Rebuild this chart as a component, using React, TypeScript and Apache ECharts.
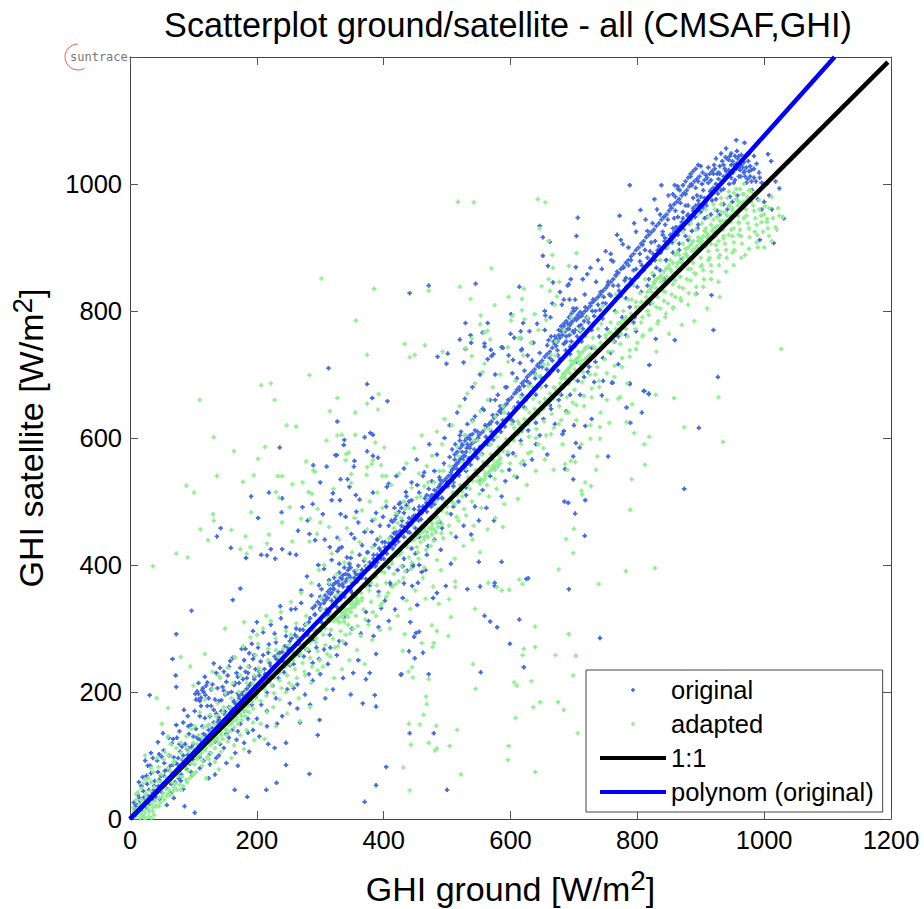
import React, { useEffect, useRef } from "react";
import * as echarts from "echarts";

const titleText = "Scatterplot ground/satellite - all (CMSAF,GHI)";
const xTicks = [0, 200, 400, 600, 800, 1000, 1200];
const yTicks = [0, 200, 400, 600, 800, 1000];

// x, y pairs: isolated marks
const originalSparse = [
760,687,788,686,811,674,818,670,783,648,807,640,789,624,897,616,754,571,874,520,699,571,703,592,709,585,686,551,699,535,685,500,691,498,718,502,702,481,717,446,692,362,741,285,728,630,744,667,732,688,700,620,718,619,684,611,
628,379,625,378,575,372,575,367,552,366,532,362,498,367,559,320,568,311,579,302,614,314,599,276,621,239,553,231,471,228,427,227,462,262,440,264,449,253,456,295,448,287,453,337,484,356,441,135,479,135,500,46,550,405,586,405,506,402,456,400,446,400,437,391,460,389,432,371,445,367,
313,710,374,685,382,663,406,658,327,626,379,608,383,605,370,601,338,597,337,589,374,579,236,585,324,573,326,573,289,557,310,555,354,564,353,555,383,572,391,569,332,535,343,535,300,530,346,523,191,508,219,514,240,505,320,513,318,502,331,502,272,491,288,496,239,483,202,474,304,480,280,470,143,458,137,445,265,454,283,449,292,439,159,427,207,416,216,415,222,425,240,425,252,418,262,416,229,410,183,411,307,440,315,428,327,443,334,428,327,422,349,449,360,467,388,482,357,484,340,476,332,480,362,503,356,510,383,514,405,523,
706,947,704,918,646,934,651,916,662,909,651,887,659,871,703,869,721,858,695,850,692,842,667,845,614,838,545,843,471,840,441,828,601,795,529,781,564,781,620,781,655,793,684,818,693,818,537,762,520,755,556,766,559,749,559,744,538,750,529,740,501,733,485,728,499,717,526,719,569,739,573,732,570,729,586,743,600,764,616,768,616,757,617,738,597,730,604,723,
73,291,97,328,174,363,162,345,67,252,72,226,73,208,370,27,451,293,404,82,388,53,185,35,215,46,165,46,102,10,86,20,299,156,283,71,246,85,231,57,378,230,428,228,386,195,388,177,367,182,31,195,
927,696,920,770,917,825,893,827,859,754,829,756,810,674,818,669,788,685,761,687,819,715,1015,907,993,912,1031,946,1024,993,1011,1036,1006,1047,956,1069,969,1065,772,950,788,998,768,920,758,890,805,959,827,976,838,998,859,998,864,996,
];

// x, y pairs: the dense band
const originalBand = [
4,6,7,15,9,5,11,22,13,10,15,33,17,20,19,14,21,44,23,27,25,18,27,55,29,36,31,24,33,72,35,42,37,30,39,60,41,35,43,92,45,52,47,31,49,68,51,41,53,108,55,76,57,49,59,61,61,128,63,83,65,55,67,71,69,97,71,58,73,148,75,86,77,64,79,106,81,70,83,93,85,172,87,118,89,79,91,101,93,134,95,87,97,113,99,94,
24,92,14,58,44,121,58,22,69,33,84,47,33,104,52,135,66,119,78,138,91,162,98,69,104,142,106,110,108,197,110,186,112,124,114,203,116,92,118,159,120,131,122,215,124,148,126,103,128,178,130,143,132,245,134,122,136,166,138,206,140,156,142,118,144,187,146,152,148,232,150,169,152,134,154,198,156,161,158,249,160,174,162,141,164,211,166,182,168,125,170,224,172,190,174,150,176,268,178,196,180,171,182,232,184,205,186,158,188,261,190,213,192,180,194,296,196,224,198,192,
112,191,108,188,106,201,115,206,119,195,103,197,200,310,204,232,207,180,210,258,213,228,216,199,219,275,222,241,225,210,228,292,231,252,234,222,237,335,240,263,243,231,246,302,249,270,252,242,255,285,258,206,261,331,264,286,267,258,270,360,273,298,276,269,279,382,282,310,285,281,288,246,291,322,294,296,297,400,300,332,303,309,306,267,309,345,312,322,315,290,318,356,321,339,324,372,327,346,330,402,333,352,336,366,339,318,342,378,345,384,348,411,351,372,354,390,357,340,360,399,363,386,366,431,369,407,372,378,375,420,378,395,
316,354,320,362,324,350,312,348,328,358,318,344,330,368,306,340,300,338,335,370,340,374,344,365,348,380,352,376,356,386,
381,452,384,416,387,398,390,440,393,426,396,410,399,476,402,436,405,418,408,462,411,444,414,426,417,490,420,452,423,437,426,498,429,470,432,444,435,515,438,466,441,451,444,502,447,477,450,458,453,526,456,492,459,472,462,540,465,505,468,484,471,520,474,508,477,497,480,548,483,516,486,505,489,534,492,518,495,560,498,532,501,524,504,570,507,542,510,530,513,590,516,551,519,541,522,610,525,566,528,554,531,584,534,568,537,558,540,628,543,582,546,571,549,600,552,586,555,575,558,644,561,602,564,590,567,622,570,610,573,597,576,660,579,624,582,612,585,640,588,628,591,618,594,680,597,638,600,630,
420,478,424,484,428,490,432,482,418,472,414,468,436,494,440,500,476,510,480,518,484,512,488,524,472,502,468,498,520,566,524,578,528,572,532,590,516,560,512,556,536,584,508,550,
603,702,606,648,609,672,612,656,615,718,618,668,621,682,624,660,627,730,630,686,633,672,636,750,639,694,642,680,645,712,648,696,651,690,654,770,657,708,660,700,663,790,666,722,669,712,672,745,675,730,678,724,681,810,684,748,687,738,690,780,693,762,696,752,699,804,702,770,705,760,708,790,711,778,714,772,717,826,720,790,723,782,726,812,729,800,732,792,735,846,738,810,741,802,744,866,747,822,750,812,753,840,
680,768,684,776,688,760,692,772,696,782,700,766,704,786,672,756,676,762,668,752,708,776,712,792,716,784,688,752,694,744,
756,826,759,880,762,840,765,818,768,862,771,832,774,824,777,905,780,848,783,838,786,872,789,850,792,842,795,938,798,866,801,854,804,890,807,872,810,864,813,944,816,884,819,874,822,908,825,890,828,880,831,960,834,902,837,892,840,925,843,910,846,900,849,982,852,920,855,908,858,946,861,932,864,920,867,990,870,940,873,928,876,966,879,950,882,938,885,1000,888,962,891,948,894,982,897,968,900,956,903,1018,906,978,909,966,912,1002,915,988,918,974,921,1030,924,1000,927,985,930,1016,933,1004,936,992,939,1042,942,1014,945,1000,948,1030,951,1018,954,1006,957,1052,960,1026,963,1012,966,1038,969,1020,972,1002,975,1036,978,1012,981,990,984,1024,987,1004,990,976,993,1010,996,960,999,1000,
868,934,872,946,876,940,880,952,884,944,888,958,892,966,864,930,860,926,856,922,852,914,848,906,844,915,896,974,900,980,904,962,908,972,912,980,916,990,920,994,924,976,928,1008,932,990,936,1012,940,1020,944,1022,948,1010,952,1002,956,1032,960,1044,964,1030,968,1018,972,1044,976,1020,980,1004,984,1044,
1004,1000,1008,982,1012,960,1018,1004,1000,972,964,962,958,982,950,972,942,960,930,952,910,948,895,930,880,912,866,896,845,880,830,868,818,850,800,838,782,820,765,800,745,788,728,770,712,752,694,732,675,706,656,682,640,668,622,648,604,626,585,610,568,590,548,568,530,548,510,524,492,505,475,492,455,470,438,452,418,432,400,410,382,398,365,380,348,360,332,346,314,326,298,312,280,290,262,274,244,256,228,240,212,222,196,204,178,188,160,170,144,150,128,134,112,118,96,100,
64,40,80,60,96,74,110,80,126,86,140,100,156,128,170,138,186,136,200,158,216,170,230,190,248,204,264,212,282,228,298,252,316,270,330,280,350,300,372,326,392,358,410,372,430,398,450,418,470,430,490,466,510,492,530,510,552,532,574,552,596,574,618,612,640,624,662,652,680,668,706,690,724,712,746,726,770,760,796,790,820,812,842,850,870,882,
];

// x, y pairs: the wider cloud round the band
const originalCloud = [
6,26,12,38,18,52,26,68,32,84,38,46,44,74,50,98,56,58,62,100,68,126,72,88,78,118,84,152,90,110,96,148,20,66,28,84,36,96,46,102,54,88,64,66,74,128,82,114,92,146,100,130,
102,170,106,128,110,162,114,146,118,224,122,178,126,162,130,212,134,188,138,152,142,238,146,208,150,196,154,226,158,176,162,254,166,214,170,198,174,238,178,220,182,268,186,230,190,196,194,252,198,236,
104,188,108,214,112,178,116,200,120,210,124,190,128,204,132,172,136,230,140,186,144,170,148,202,152,216,156,240,160,200,164,184,168,230,172,214,176,198,180,250,184,222,188,240,192,276,196,258,
110,98,124,64,136,96,152,88,166,104,180,120,194,140,134,70,148,112,170,84,188,106,
202,270,206,248,210,294,214,224,218,262,222,306,226,238,230,278,234,260,238,316,242,248,246,288,250,266,254,330,258,244,262,300,266,276,270,340,274,256,278,292,282,264,286,352,290,284,294,270,298,368,
204,130,216,146,228,112,240,162,252,182,264,174,276,196,288,218,296,132,218,118,232,150,246,120,268,152,284,180,
302,362,306,394,310,330,314,376,318,408,322,362,326,334,330,426,334,378,338,350,342,412,346,396,350,356,354,442,358,374,362,416,366,392,370,452,374,420,378,368,382,470,386,432,390,404,394,462,398,436,
300,228,312,244,326,258,340,276,352,230,364,292,376,312,388,260,396,332,308,190,320,204,336,222,348,196,360,250,372,220,384,288,392,302,
404,492,408,528,412,470,416,450,420,540,424,496,428,462,432,552,436,508,440,474,444,530,448,488,452,566,456,514,460,482,464,546,468,510,472,590,476,532,480,496,484,574,488,538,492,506,496,600,
402,344,412,368,422,392,432,410,444,426,456,444,468,416,480,440,492,458,408,312,418,330,430,348,442,310,454,372,466,392,478,348,490,424,408,396,424,420,446,398,
504,620,508,582,512,566,516,640,520,604,524,588,528,662,532,622,536,598,540,680,544,634,548,610,552,700,556,646,560,620,564,724,568,660,572,636,576,700,580,668,584,650,588,742,592,680,596,660,
506,480,518,500,530,522,544,492,556,518,568,540,580,556,592,532,514,444,526,462,538,448,550,470,562,490,574,470,586,508,598,550,
606,758,610,694,614,676,618,740,622,706,626,690,630,768,634,722,638,702,642,780,646,734,650,712,654,800,658,746,662,726,666,812,670,760,674,738,678,830,682,770,686,750,690,840,694,790,698,768,
604,576,616,596,628,612,640,590,652,630,664,646,676,660,688,642,610,538,622,558,634,566,646,604,658,574,670,622,682,606,694,668,
702,818,706,790,710,768,714,850,718,806,722,788,726,868,730,818,734,800,738,880,742,830,746,812,750,894,754,846,758,824,762,878,766,856,770,840,774,912,778,868,782,852,786,900,790,880,794,864,798,925,
704,720,716,696,728,742,740,760,752,772,764,752,776,790,788,806,798,768,710,668,722,704,734,720,746,690,758,734,770,716,782,762,794,782,
804,878,808,904,812,896,816,926,820,894,824,938,828,910,832,896,836,952,840,920,844,936,848,944,852,966,856,930,860,958,864,948,868,970,872,956,876,984,880,966,884,1012,888,978,892,994,896,1004,900,1028,904,990,908,1014,912,1026,916,1006,920,1016,924,1040,928,1018,932,1048,936,1030,940,1056,944,1038,948,1048,952,1030,956,1024,960,1012,964,1046,968,1034,972,1026,976,1048,980,1022,984,1010,988,1032,992,1018,996,1002,
806,830,816,840,826,856,836,864,846,880,856,892,866,906,876,918,886,926,896,936,906,946,916,952,926,958,936,968,946,980,
];

// x, y pairs: the tight clusters beside the fitted line
const originalCore = [
8,20,16,28,22,34,30,46,38,52,46,62,54,68,60,78,68,86,76,96,84,100,92,112,100,118,108,126,116,134,124,140,132,152,140,160,148,166,156,176,164,186,172,194,180,200,188,210,196,220,204,226,212,236,220,246,228,256,236,262,244,272,252,280,260,290,268,298,276,306,284,316,292,322,300,330,
304,346,308,352,312,358,316,362,320,368,324,372,328,374,332,380,336,384,340,386,344,392,348,396,300,350,296,342,292,336,288,332,314,370,322,380,330,388,338,396,346,402,
354,380,360,384,366,392,372,398,378,404,384,410,390,416,396,422,402,428,408,434,414,442,420,448,426,454,432,460,438,466,444,472,450,478,456,486,462,492,468,498,474,504,480,510,
486,522,490,528,494,532,498,536,502,540,506,546,510,552,514,558,518,562,522,568,526,572,530,578,534,586,538,590,542,594,546,596,550,604,554,608,558,612,562,618,566,622,570,626,574,632,578,636,
512,574,516,578,520,584,524,590,528,596,532,600,536,604,528,604,520,596,540,606,544,612,
582,642,586,646,590,650,594,654,598,660,602,664,606,670,610,676,614,680,618,686,622,690,626,696,630,700,634,704,638,708,642,714,646,718,650,722,654,728,658,732,662,736,666,742,
670,748,674,752,678,758,682,762,686,768,690,772,694,778,698,784,702,788,706,794,710,798,676,770,680,776,684,780,688,784,692,790,696,796,700,800,704,804,664,760,660,754,
714,796,718,800,722,804,726,808,730,814,734,818,738,822,742,826,746,832,750,836,754,842,758,846,762,850,766,856,770,860,774,866,778,870,782,876,786,880,790,886,794,890,798,896,802,900,
806,906,810,910,814,916,818,920,822,924,826,928,830,934,834,938,838,944,842,948,846,952,850,958,854,962,858,968,862,972,866,976,870,982,874,986,878,990,882,996,886,998,890,1004,894,1008,898,1012,902,1000,906,1006,910,1010,914,1016,918,1020,922,1024,
872,998,876,1004,880,1010,884,1016,888,1020,892,1024,896,1030,864,992,860,980,856,984,926,1016,930,1028,934,1036,938,1024,942,1040,946,1044,950,1036,954,1044,958,1040,962,1022,966,1026,970,1012,974,1008,978,1028,
];

// x, y pairs: isolated marks
const adaptedSparse = [
829,668,858,663,928,664,773,664,792,653,783,625,874,617,935,594,819,602,795,608,811,590,741,617,741,599,726,599,737,571,812,558,735,550,791,535,718,530,727,524,712,517,713,511,789,487,700,457,688,441,699,419,782,390,828,395,739,370,692,291,703,257,686,559,695,564,702,562,690,550,
676,393,614,377,619,370,598,361,586,360,565,372,579,365,513,374,513,365,503,346,487,339,466,347,442,331,544,331,506,318,476,305,484,296,502,288,433,291,460,277,479,277,477,271,430,265,639,303,692,291,639,271,621,268,619,258,671,258,703,257,541,244,445,239,439,232,446,223,471,220,699,226,606,215,610,210,633,217,545,205,467,193,468,181,647,184,675,184,636,176,684,172,463,164,608,159,440,150,457,149,483,147,516,140,706,135,443,117,471,120,484,111,481,108,504,115,597,115,596,93,431,81,522,70,639,74,441,45,
374,731,283,699,207,683,222,686,110,660,228,660,327,663,392,669,374,654,391,645,355,640,315,642,247,620,262,618,132,601,213,586,164,579,202,567,278,563,310,596,327,604,334,605,355,605,387,593,401,585,137,540,89,525,101,514,178,531,195,541,233,540,240,540,256,527,272,530,230,515,235,506,131,480,132,470,191,483,252,491,240,467,270,473,111,456,160,455,123,439,182,445,219,448,73,418,91,412,174,425,190,428,216,434,256,437,184,418,289,549,292,547,282,515,287,512,296,488,300,467,284,473,295,449,283,437,314,460,321,520,340,565,341,575,345,577,349,543,373,542,374,554,349,529,396,557,398,540,404,540,381,559,383,565,
517,972,542,971,643,976,655,971,646,930,660,910,570,867,666,888,667,868,692,871,704,891,302,851,385,835,471,832,520,838,537,819,575,809,597,822,618,819,621,835,649,839,660,850,677,846,662,832,673,823,670,810,618,801,553,793,552,779,604,793,601,785,622,787,638,795,356,785,559,766,564,769,539,757,568,755,433,748,465,746,441,727,449,731,493,736,529,741,539,729,559,717,596,743,616,758,613,757,
1027,740,1022,962,1005,945,1018,932,1030,948,985,925,990,900,960,920,970,888,950,892,930,888,912,880,900,870,884,866,860,848,840,832,1008,962,1012,980,
42,190,24,100,60,175,80,255,95,240,60,130,50,150,118,260,130,232,100,210,150,300,140,225,165,255,180,310,200,290,215,320,36,398,
];

// x, y pairs: the dense band
const adaptedBand = [
3,4,6,10,8,3,10,14,12,8,14,22,16,12,18,7,20,28,22,16,24,10,26,34,28,20,30,14,32,44,34,24,36,18,38,50,40,28,42,20,44,60,46,34,48,26,50,70,52,40,54,30,56,48,58,36,60,80,62,46,64,38,66,58,68,44,70,92,72,56,74,46,76,68,78,54,80,104,82,66,84,52,86,80,88,62,90,112,92,76,94,64,96,88,98,70,100,120,
10,40,18,48,24,62,33,80,42,96,55,105,64,118,22,2,30,4,38,6,16,1,25,1,34,1,
102,86,104,108,106,94,108,132,110,100,112,118,114,92,116,144,118,108,120,126,122,98,124,148,126,116,128,104,130,138,132,122,134,112,136,162,138,128,140,120,142,150,144,136,146,126,148,176,150,142,152,132,154,160,156,148,158,138,160,190,162,154,164,144,166,172,168,160,170,150,172,200,174,166,176,156,178,184,180,172,182,162,184,214,186,178,188,168,190,194,192,184,194,174,196,226,198,190,
136,134,140,138,144,142,148,146,152,150,156,152,160,158,164,162,168,166,172,168,176,174,130,126,126,128,122,120,118,118,114,112,110,112,
200,196,203,238,206,186,209,214,212,204,215,194,218,250,221,222,224,210,227,198,230,266,233,232,236,218,239,206,242,254,245,240,248,226,251,214,254,290,257,250,260,236,263,222,266,278,269,258,272,246,275,232,278,306,281,268,284,254,287,240,290,296,293,278,296,264,299,250,302,330,305,290,308,274,311,260,314,316,317,298,320,284,323,270,326,352,329,310,332,296,335,280,338,336,341,322,344,306,347,292,350,376,353,336,356,320,359,304,362,358,365,344,368,330,371,314,374,398,377,360,380,342,383,326,386,382,389,368,392,352,395,336,398,420,
336,324,340,328,344,330,348,332,352,338,334,320,330,318,356,340,360,344,326,314,322,312,
401,388,404,372,407,356,410,440,413,402,416,386,419,370,422,466,425,416,428,398,431,380,434,488,437,430,440,412,443,394,446,462,449,448,452,428,455,410,458,508,461,462,464,444,467,424,470,530,473,474,476,456,479,438,482,500,485,488,488,470,491,450,494,548,497,500,500,482,503,462,506,530,509,514,512,496,515,476,518,572,521,526,524,508,527,488,530,552,533,538,536,520,539,500,542,596,545,550,548,532,551,512,554,574,557,562,560,544,563,526,566,615,569,574,572,556,575,536,578,602,581,586,584,568,587,548,590,640,593,598,596,578,599,560,
456,448,460,452,464,456,468,452,472,458,476,462,480,456,484,466,452,444,448,440,560,536,564,544,568,548,572,552,576,550,580,556,584,560,556,532,552,528,
602,622,605,596,608,572,611,650,614,610,617,590,620,564,623,664,626,622,629,602,632,578,635,680,638,634,641,614,644,590,647,698,650,646,653,626,656,604,659,716,662,658,665,638,668,616,671,730,674,670,677,650,680,628,683,700,686,684,689,664,692,640,695,722,698,696,701,676,704,652,707,736,710,708,713,688,716,666,719,760,722,720,725,700,728,678,731,744,734,732,737,712,740,690,743,780,746,744,749,724,752,702,755,766,758,756,761,736,764,714,767,798,770,768,773,748,776,726,779,786,782,780,785,760,788,738,791,818,794,792,797,772,800,750,
696,716,700,720,704,724,708,728,712,722,716,716,692,710,688,706,684,702,720,726,724,730,
803,806,806,782,809,762,812,850,815,816,818,794,821,772,824,860,827,828,830,806,833,784,836,880,839,838,842,816,845,796,848,900,851,850,854,826,857,806,860,912,863,862,866,838,869,816,872,925,875,874,878,850,881,828,884,938,887,884,890,860,893,838,896,952,899,896,902,872,905,850,908,960,911,908,914,884,917,862,920,968,923,918,926,896,929,872,932,978,935,928,938,906,941,884,944,988,947,940,950,918,953,896,956,992,959,950,962,928,965,906,968,1000,971,960,974,938,977,916,980,988,983,966,986,946,989,920,992,975,995,950,998,925,1001,965,1004,940,1008,918,1014,946,1020,928,
880,900,884,904,888,910,892,892,896,898,900,914,904,918,908,902,912,920,916,906,920,926,924,932,928,910,932,936,936,914,940,942,944,920,948,950,952,930,956,956,960,938,964,968,968,946,972,974,860,888,864,892,868,878,872,884,876,890,850,872,846,868,842,862,838,856,834,852,830,850,826,846,822,838,
];

// x, y pairs: the wider cloud round the band
const adaptedCloud = [
5,18,9,30,13,42,17,30,21,56,25,40,29,64,33,58,37,74,41,44,45,82,49,58,53,94,57,66,61,100,65,74,69,88,73,112,77,82,81,120,85,94,89,130,93,106,97,142,
30,12,40,20,50,34,60,40,70,50,80,46,90,58,100,70,20,6,36,12,46,20,
102,146,106,118,110,168,114,128,118,188,122,146,126,164,130,204,134,150,138,182,142,222,146,168,150,198,154,238,158,176,162,214,166,254,170,186,174,226,178,272,182,198,186,240,190,286,194,212,198,258,
104,74,114,84,124,94,134,90,144,106,154,122,164,116,174,132,184,140,194,152,120,64,140,78,160,96,180,110,196,124,
202,276,206,232,210,300,214,222,218,268,222,312,226,240,230,284,234,256,238,326,242,268,246,296,250,274,254,342,258,262,262,308,266,284,270,356,274,276,278,320,282,298,286,372,290,306,294,284,298,392,
206,150,216,168,226,176,236,188,246,200,256,210,266,190,276,226,286,214,296,234,212,126,230,146,248,166,268,154,284,176,
302,348,306,400,310,316,314,372,318,418,322,340,326,386,330,440,334,356,338,404,342,458,346,376,350,420,354,474,358,392,362,436,366,486,370,410,374,456,378,500,382,428,386,472,390,514,394,444,398,490,
304,240,316,256,328,272,340,290,352,300,364,288,376,306,388,320,398,340,310,204,322,222,334,236,346,250,358,266,370,244,382,282,394,298,
404,500,408,442,412,526,416,458,420,482,424,544,428,474,432,500,436,560,440,490,444,522,448,584,452,506,456,544,460,604,464,524,468,556,472,500,476,572,480,530,484,610,488,548,492,590,496,630,
404,350,414,366,424,374,434,390,444,404,454,420,464,396,474,430,484,408,494,442,410,300,422,320,436,344,450,360,462,380,478,366,490,392,
504,556,508,620,512,540,516,586,520,650,524,562,528,604,532,670,536,578,540,626,544,686,548,596,552,642,556,704,560,614,564,660,568,590,572,680,576,634,580,612,584,700,588,650,592,630,596,720,
506,450,518,470,530,478,542,462,554,490,566,508,578,520,590,496,512,410,526,430,540,440,552,420,564,456,576,474,588,460,
604,646,608,690,612,626,616,664,620,730,624,646,628,682,632,750,636,662,640,700,644,770,648,680,652,716,656,786,660,700,664,730,668,680,672,752,676,716,680,694,684,770,688,730,692,710,696,790,
606,540,616,560,628,576,640,600,652,584,664,606,676,622,688,640,698,656,612,504,626,526,640,548,654,566,668,550,682,590,
702,744,706,722,710,770,714,704,718,742,722,790,726,726,730,758,734,700,738,772,742,740,746,808,750,762,754,736,758,782,762,752,766,826,770,780,774,764,778,800,782,772,786,818,790,790,794,840,798,814,
704,628,716,650,728,664,740,680,752,660,764,696,776,712,788,728,798,740,712,590,726,620,742,640,756,624,770,662,784,686,
804,828,808,790,812,812,816,800,820,834,824,812,828,846,832,822,836,804,840,850,844,830,848,812,852,866,856,842,860,822,864,876,868,854,872,836,876,890,880,866,884,848,888,876,892,858,896,910,900,884,904,864,908,930,912,894,916,872,920,944,924,904,928,884,932,956,936,918,940,896,944,966,948,928,952,908,956,976,960,940,964,918,968,984,972,950,976,930,980,972,984,958,988,936,992,960,996,940,1000,952,1006,930,1012,910,1024,950,
808,760,820,770,832,780,844,790,856,804,868,820,880,810,892,826,904,838,916,850,928,846,940,862,952,872,964,884,976,898,988,908,1000,900,830,736,850,764,870,778,890,784,910,804,930,822,
];

// x, y pairs: the tight clusters along the 1:1 line
const adaptedCore = [
6,6,12,14,18,18,24,22,30,30,36,38,42,40,48,50,54,52,60,62,66,64,72,74,78,76,84,86,90,88,96,98,102,100,108,110,114,110,120,122,126,124,132,134,138,136,144,146,150,146,156,158,162,156,168,160,174,172,180,176,186,184,192,186,198,198,
104,96,112,104,120,112,128,118,136,126,144,132,152,140,160,150,168,156,176,162,184,170,100,110,108,116,116,124,124,132,132,140,140,148,148,156,156,164,164,172,
204,204,212,208,220,216,228,222,236,230,244,240,252,244,260,256,268,262,276,270,284,278,292,286,300,296,308,300,316,312,324,316,332,326,340,330,348,338,356,348,364,356,372,366,380,372,388,382,396,390,
330,310,336,316,342,322,348,326,354,334,360,340,366,348,338,310,344,318,350,344,356,352,334,330,
404,400,412,406,420,414,428,420,436,428,444,438,452,444,460,452,468,446,476,466,484,476,492,486,500,492,508,500,516,510,524,516,532,526,540,532,548,540,556,550,
458,436,464,440,470,444,476,448,482,452,466,462,474,470,480,474,486,460,492,464,
564,556,572,566,580,574,588,580,596,590,604,598,612,606,620,614,628,622,636,630,644,638,652,646,660,654,668,662,676,670,684,680,692,686,700,694,
566,546,570,552,574,558,578,562,582,566,560,540,554,536,
606,616,614,622,622,630,630,640,638,646,646,656,654,662,662,670,670,678,678,686,686,694,694,702,702,708,710,716,718,724,726,732,734,740,742,750,750,758,758,766,766,772,774,782,782,790,790,796,
698,716,702,722,706,726,710,732,714,736,718,740,722,744,694,712,690,706,686,700,682,696,
798,806,806,814,814,822,822,830,830,836,838,846,846,854,854,862,862,870,870,876,878,886,886,894,894,902,902,910,910,916,918,926,926,934,934,942,942,950,950,958,958,966,966,972,974,980,982,986,
816,830,826,842,836,854,846,866,856,876,866,888,876,898,886,908,896,916,906,926,916,936,926,948,936,956,946,966,956,976,966,984,976,990,
852,880,862,892,872,906,882,916,892,928,902,938,912,948,922,960,932,968,942,978,952,986,962,992,880,886,890,898,900,906,910,922,920,930,930,942,940,952,950,962,960,972,
];

const polyX = [0, 100, 200, 300, 400, 500, 600, 700, 800, 900, 1000, 1111];
const polyY = [0, 104, 210, 315, 420, 527, 635, 745, 855, 965, 1076, 1200];
const identityX = [0, 1195];
const identityY = [0, 1192];

const PLUS = "path://M3 0h4v3h3v4h-3v3h-4v-3h-3v-4h3z";
const BLUE = "#4169e1";
const GREEN = "#90ee90";
const FONT = "'Liberation Sans', Arial, sans-serif";

function pairs(flat: number[]) {
  const out: number[][] = [];
  for (let i = 0; i + 1 < flat.length; i += 2) out.push([flat[i], flat[i + 1]]);
  return out;
}
function zip(a: number[], b: number[]) {
  return a.map((v, i) => [v, b[i]]);
}

export default function App() {
  const ref = useRef<HTMLDivElement>(null);
  useEffect(() => {
    document.body.style.margin = "0";
    const chart = echarts.init(ref.current!, null, { renderer: "svg" });
    const sharedAxis = {
      type: "value",
      min: xTicks[0],
      max: xTicks[xTicks.length - 1],
      interval: 200,
      splitLine: { show: false },
      axisLine: { show: true, onZero: false, lineStyle: { color: "#444", width: 1 } },
      axisTick: { show: true, inside: true, length: 8, lineStyle: { color: "#555", width: 1 } },
    };
    const nameStyle = {
      fontFamily: FONT,
      fontSize: 34,
      color: "#000",
      rich: { sup: { fontFamily: FONT, fontSize: 28, color: "#000", padding: [0, 0, 18, 0] } },
    };
    const labelStyle = { fontFamily: FONT, fontSize: 25.5, color: "#000" };
    chart.setOption({
      animation: false,
      backgroundColor: "#fff",
      title: {
        text: titleText,
        left: 503,
        top: 3,
        textAlign: "center",
        textStyle: { fontFamily: FONT, fontSize: 34.2, fontWeight: "normal", color: "#000" },
      },
      grid: { left: 130, top: 57, width: 761, height: 762, containLabel: false, outerBoundsMode: "none" },
      xAxis: [
        {
          ...sharedAxis,
          position: "bottom",
          name: "GHI ground [W/m{sup|2}]",
          nameLocation: "middle",
          nameGap: 47,
          nameTextStyle: nameStyle,
          axisLabel: { ...labelStyle, margin: 8, formatter: (v: number) => String(v) },
        },
        { ...sharedAxis, position: "top", axisLabel: { show: false } },
      ],
      yAxis: [
        {
          ...sharedAxis,
          position: "left",
          name: "GHI satellite [W/m{sup|2}]",
          nameLocation: "middle",
          nameGap: 76,
          nameTextStyle: nameStyle,
          axisLabel: {
            ...labelStyle,
            margin: 8,
            formatter: (v: number) => (yTicks.includes(v) ? String(v) : ""),
          },
        },
        { ...sharedAxis, position: "right", axisLabel: { show: false } },
      ],
      legend: {
        orient: "vertical",
        left: 586,
        top: 670,
        padding: [7, 9, 7, 12],
        itemWidth: 66,
        itemHeight: 4,
        itemGap: 8,
        backgroundColor: "#fff",
        borderColor: "#444",
        borderWidth: 1,
        borderRadius: 0,
        lineStyle: { width: 4 },
        textStyle: { fontFamily: FONT, fontSize: 25.5, color: "#000" },
        data: ["original", "adapted", "1:1", "polynom (original)"],
      },
      series: [
        {
          name: "original",
          type: "scatter",
          symbol: PLUS,
          symbolSize: 4.5,
          itemStyle: { color: BLUE, opacity: 1 },
          data: pairs(originalSparse.concat(originalBand, originalCloud, originalCore)),
        },
        {
          name: "adapted",
          type: "scatter",
          symbol: PLUS,
          symbolSize: 4.5,
          itemStyle: { color: GREEN, opacity: 1 },
          data: pairs(adaptedSparse.concat(adaptedBand, adaptedCloud, adaptedCore)),
        },
        {
          name: "1:1",
          type: "line",
          showSymbol: false,
          symbol: "none",
          lineStyle: { color: "#000", width: 4.5 },
          itemStyle: { color: "#000" },
          data: zip(identityX, identityY),
          z: 5,
        },
        {
          name: "polynom (original)",
          type: "line",
          showSymbol: false,
          symbol: "none",
          lineStyle: { color: "#0000ff", width: 4.5 },
          itemStyle: { color: "#0000ff" },
          data: zip(polyX, polyY),
          z: 6,
        },
      ],
      graphic: [
        {
          type: "arc",
          shape: { cx: 78, cy: 57, r: 13, startAngle: -Math.PI / 2, endAngle: Math.PI / 3, clockwise: false },
          style: { stroke: "#e8604a", fill: "none", lineWidth: 1 },
          z: 20,
        },
        {
          type: "text",
          x: 70,
          y: 51,
          style: { text: "suntrace", fontFamily: "'DejaVu Sans Mono', monospace", fontSize: 12, fill: "#777" },
          z: 20,
        },
      ],
    });
    return () => chart.dispose();
  }, []);
  return <div ref={ref} style={{ position: "absolute", left: 0, top: 0, width: 924, height: 909 }} />;
}
